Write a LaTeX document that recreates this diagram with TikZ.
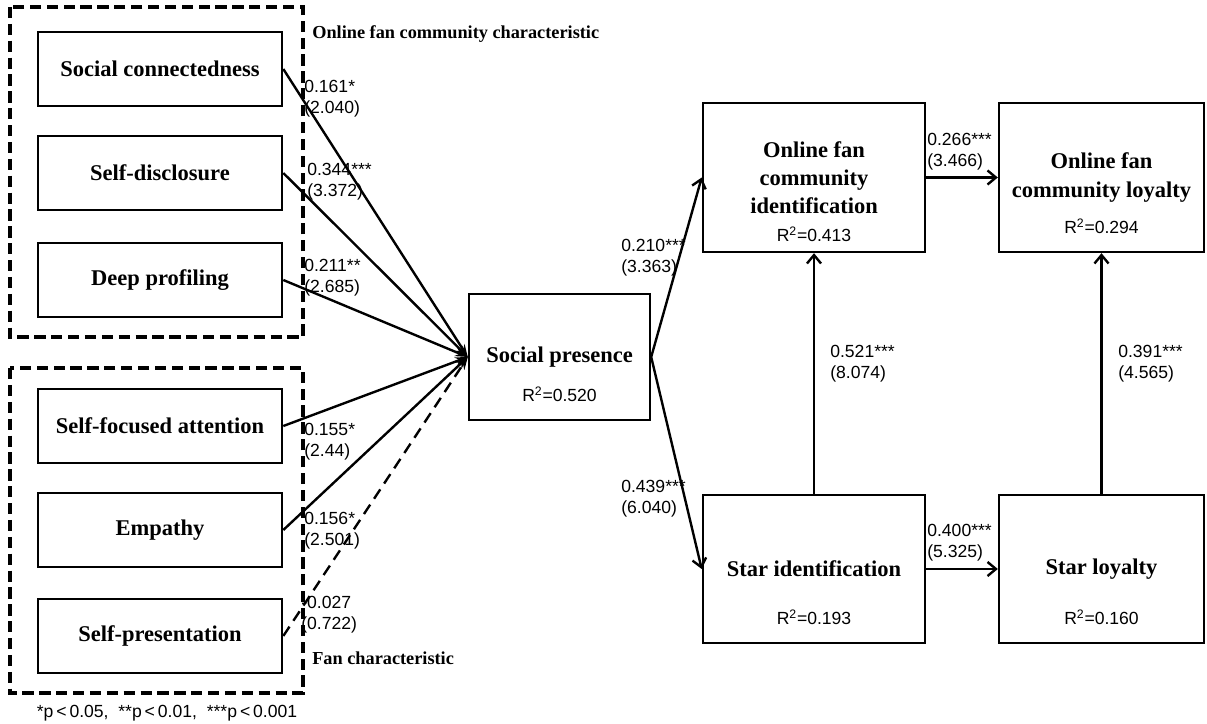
\documentclass[tikz,border=0pt]{standalone}
\usepackage{fontspec}
\setmainfont{Liberation Serif}
\newfontfamily\numfont{Liberation Sans}
\usetikzlibrary{arrows.meta,positioning}

\begin{document}
\begin{tikzpicture}[x=0.025cm,y=-0.025cm,
    construct/.style={draw,line width=1.8pt,minimum width=6.1cm,minimum height=1.85cm,inner sep=2pt,align=center,font=\fontsize{16}{19}\selectfont\bfseries},
    latent/.style={draw,line width=1.8pt,minimum width=5.55cm,minimum height=3.72cm,inner sep=2pt,align=center,font=\fontsize{16}{20}\selectfont\bfseries},
    coef/.style={anchor=west,align=left,inner sep=0pt,font=\numfont\fontsize{12.5}{15}\selectfont},
    rsq/.style={inner sep=0pt,font=\numfont\fontsize{12.5}{14}\selectfont},
    grouplabel/.style={anchor=west,inner sep=0pt,font=\fontsize{13}{15}\selectfont\bfseries},
    link/.style={line width=1.7pt,-{Straight Barb[length=6pt,width=10pt]}},
    inlink/.style={line width=1.7pt,-{Stealth[length=9pt,width=6pt]}},
    groupframe/.style={line width=2.6pt,dash pattern=on 8pt off 4pt}]
        \useasboundingbox (0,0) rectangle (1207,723);

        % Online fan community characteristic
        \draw[groupframe] (10,7) rectangle (303,337);
        \node[construct] (conn) at (160,69) {Social connectedness};
        \node[construct] (discl) at (160,173) {Self-disclosure};
        \node[construct] (prof) at (160,280) {Deep profiling};
        \node[grouplabel] (fctitle) at (312,34) {Online fan community characteristic};

        % Fan characteristic
        \draw[groupframe] (10,368) rectangle (303,693);
        \node[construct] (focus) at (160,426) {Self-focused attention};
        \node[construct] (empa) at (160,530) {Empathy};
        \node[construct] (pres) at (160,636) {Self-presentation};
        \node[grouplabel] (fantitle) at (312,658) {Fan characteristic};

        \node[inner sep=0pt,font=\numfont\fontsize{12.5}{14}\selectfont] (pnote) at (167,713) {*p\,<\,0.05,\ \ **p\,<\,0.01,\ \ ***p\,<\,0.001};

        % Mediator and outcomes
        \node[latent,minimum width=4.52cm,minimum height=3.15cm] (sp) at (559.5,357) {Social presence};
        \node[rsq] (spR) at (559.5,394) {R\textsuperscript{2}=0.520};

        \node[latent] (ofcid) at (814,177.5) {Online fan\\community\\identification};
        \node[rsq] (ofcidR) at (814,234) {R\textsuperscript{2}=0.413};
        \node[latent,minimum width=5.12cm] (ofcloy) at (1101.5,177.5) {Online fan\\community loyalty};
        \node[rsq] (ofcloyR) at (1101.5,226) {R\textsuperscript{2}=0.294};

        \node[latent,minimum height=3.7cm] (starid) at (814,569) {Star identification};
        \node[rsq] (staridR) at (814,617) {R\textsuperscript{2}=0.193};
        \node[latent,minimum width=5.12cm,minimum height=3.7cm] (starloy) at (1101.5,569) {Star loyalty};
        \node[rsq] (starloyR) at (1101.5,617) {R\textsuperscript{2}=0.160};

        % Paths into social presence
        \draw[inlink] (conn.east) -- (sp.west);
        \draw[inlink] (discl.east) -- (sp.west);
        \draw[inlink] (prof.east) -- (sp.west);
        \draw[inlink] (focus.east) -- (sp.west);
        \draw[inlink] (empa.east) -- (sp.west);
        \draw[inlink,dash pattern=on 8pt off 5pt] (pres.east) -- (sp.west);

        \node[coef] (c1) at (304,99) {0.161*\\(2.040)};
        \node[coef] (c2) at (307,182) {0.344***\\(3.372)};
        \node[coef] (c3) at (304,278) {0.211**\\(2.685)};
        \node[coef] (c4) at (304,442) {0.155*\\(2.44)};
        \node[coef] (c5) at (304,531) {0.156*\\(2.501)};
        \node[coef] (c6) at (301,615) {-0.027\\(0.722)};

        % Structural paths
        \draw[link] (sp.east) -- (ofcid.west);
        \draw[link] (sp.east) -- (starid.west);
        \draw[link] (ofcid) -- (ofcloy);
        \draw[link] (starid) -- (starloy);
        \draw[link] (starid) -- (ofcid);
        \draw[link] (starloy) -- (ofcloy);

        \node[coef] (c7) at (621,258) {0.210***\\(3.363)};
        \node[coef] (c8) at (621,499) {0.439***\\(6.040)};
        \node[coef] (c9) at (927,152) {0.266***\\(3.466)};
        \node[coef] (c10) at (927,543) {0.400***\\(5.325)};
        \node[coef] (c11) at (830,364) {0.521***\\(8.074)};
        \node[coef] (c12) at (1118,364) {0.391***\\(4.565)};
    \end{tikzpicture}
\end{document}
